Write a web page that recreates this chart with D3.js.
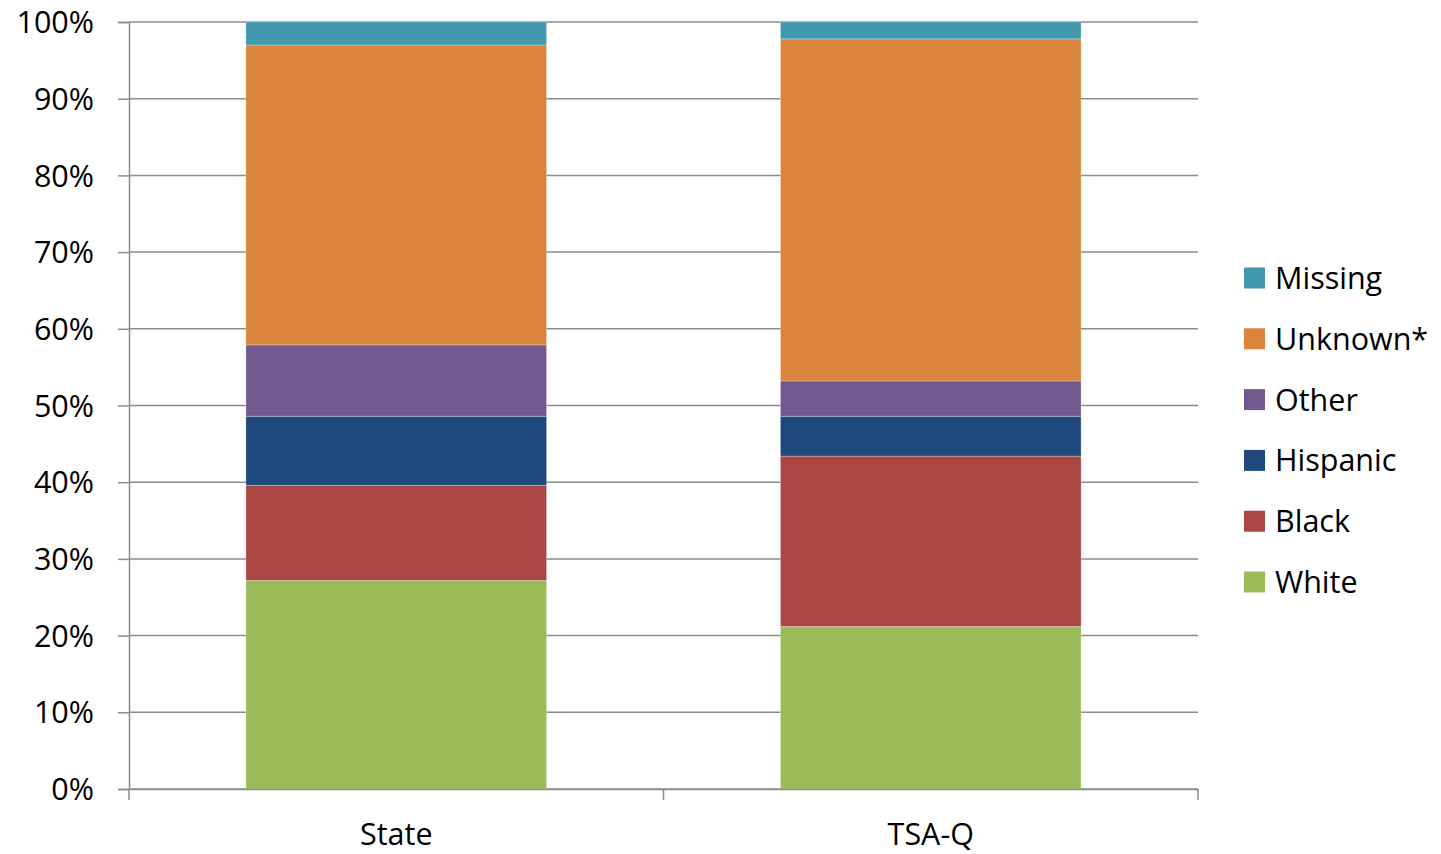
<!DOCTYPE html>
<html><head><meta charset="utf-8">
<script src="https://cdn.jsdelivr.net/npm/d3@7"></script>
<style>body{margin:0;background:#fff}svg{display:block}text{font-family:"Open Sans",Lato,sans-serif;fill:#000}</style>
</head><body><svg id="c" width="1441" height="854"></svg>
<script>
const categories = ["State", "TSA-Q"];
const seriesNames = ["White", "Black", "Hispanic", "Other", "Unknown*", "Missing"];
const white    = [27.2, 21.2];
const black    = [12.4, 22.2];
const hispanic = [9.0, 5.2];
const other    = [9.3, 4.6];
const unknown  = [39.1, 44.6];
const missing  = [3.0, 2.2];
const yTicks = [0,10,20,30,40,50,60,70,80,90,100];
const colors = ["#9BBB59", "#AA4644", "#1F497D", "#71588F", "#DB843D", "#4198AF"];

const values = [white, black, hispanic, other, unknown, missing];
const rows = categories.map((c, i) => {
  const r = {cat: c};
  seriesNames.forEach((s, j) => r[s] = values[j][i]);
  return r;
});
const stack = d3.stack().keys(seriesNames)(rows);

const svg = d3.select("#c");
const L = 129, R = 1198, T = 22, B = 789;
const FONT = "'Open Sans', Lato, sans-serif";
const x = d3.scaleBand().domain(categories).range([L, R]).paddingInner(0.4375).paddingOuter(0.21875);
const y = d3.scaleLinear().domain([0, 100]).range([B, T]);

// gridlines
svg.append("g").selectAll("line").data(yTicks).join("line")
  .attr("x1", L).attr("x2", R).attr("y1", d => y(d)).attr("y2", d => y(d))
  .attr("stroke", "#8c8c8c").attr("stroke-width", 1.5);

// bars
svg.append("g").selectAll("g").data(stack).join("g")
  .attr("fill", (d, i) => colors[i])
  .selectAll("rect").data(d => d).join("rect")
  .attr("x", d => x(d.data.cat)).attr("width", x.bandwidth())
  .attr("y", d => y(d[1])).attr("height", d => y(d[0]) - y(d[1]))
  .attr("stroke", "rgba(255,255,255,0.35)").attr("stroke-width", 0.8);

// y axis
const ya = svg.append("g").attr("transform", `translate(${L},0)`)
  .call(d3.axisLeft(y).tickValues(yTicks).tickFormat(d => d + "%").tickSize(11).tickPadding(24));
ya.select(".domain").attr("stroke", "#8c8c8c").attr("stroke-width", 1.5);
ya.selectAll(".tick line").attr("stroke", "#8c8c8c").attr("stroke-width", 1.5);
ya.selectAll("text").attr("font-size", 30.5).attr("font-family", FONT).attr("fill", "#000").attr("dy", "0.35em");

// x axis
const xa = svg.append("g").attr("transform", `translate(0,${B})`)
  .call(d3.axisBottom(x).tickSize(0).tickPadding(35));
xa.select(".domain").attr("stroke", "#8c8c8c").attr("stroke-width", 1.5);
xa.selectAll("text").attr("font-size", 30.5).attr("font-family", FONT).attr("fill", "#000").attr("dy", "0.7em");
// category boundary ticks
const bounds = [L, (x(categories[0]) + x.bandwidth() + x(categories[1])) / 2, R];
svg.append("g").selectAll("line").data(bounds).join("line")
  .attr("x1", d => d).attr("x2", d => d).attr("y1", B).attr("y2", B + 11)
  .attr("stroke", "#8c8c8c").attr("stroke-width", 1.5);

// legend
const leg = svg.append("g").selectAll("g").data(seriesNames.slice().reverse()).join("g")
  .attr("transform", (d, i) => `translate(1244,${278 + i * 60.8})`);
leg.append("rect").attr("x", 0).attr("y", -10.5).attr("width", 21).attr("height", 21)
  .attr("fill", d => colors[seriesNames.indexOf(d)]);
leg.append("text").attr("x", 31).attr("dy", "0.36em").attr("font-size", 30.5).attr("font-family", FONT).text(d => d);
</script></body></html>
